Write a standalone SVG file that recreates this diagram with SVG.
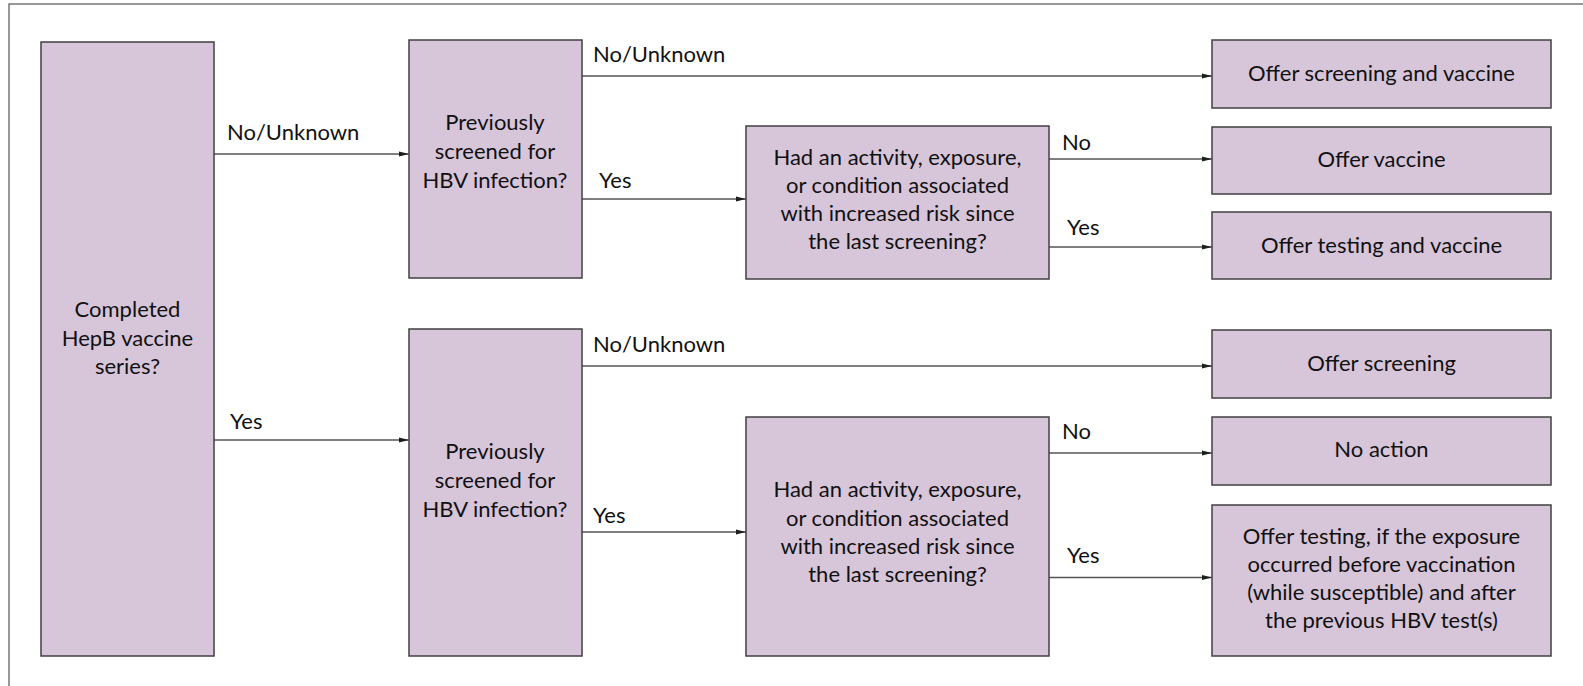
<svg xmlns="http://www.w3.org/2000/svg" width="1583" height="686" viewBox="0 0 1583 686">
<defs>
<marker id="arr" markerWidth="10" markerHeight="6" refX="10" refY="3" orient="auto" markerUnits="userSpaceOnUse"><path d="M0,0.6 L10,3 L0,5.4 Z" fill="#1e1e1e"/></marker>
<style>
.frame{fill:none;stroke:#555;stroke-width:1.2}
.box{fill:#D7C5D9;stroke:#404040;stroke-width:1.5}
.t{font-family:Lato,"Liberation Sans",sans-serif;font-size:22px;fill:#111;text-anchor:middle}
.l{font-family:Lato,"Liberation Sans",sans-serif;font-size:22px;fill:#111;text-anchor:start}
.c{stroke:#555;stroke-width:1.5;fill:none;marker-end:url(#arr)}
</style>
</defs>
<rect class="frame" x="9" y="4" width="1600" height="720"/>
<g id="connectors">
<path class="c" d="M214,154 H409"/>
<path class="c" d="M214,440 H409"/>
<path class="c" d="M582,76 H1212"/>
<path class="c" d="M582,199 H746"/>
<path class="c" d="M1049,159 H1212"/>
<path class="c" d="M1049,247 H1212"/>
<path class="c" d="M582,366 H1212"/>
<path class="c" d="M582,532 H746"/>
<path class="c" d="M1049,453 H1212"/>
<path class="c" d="M1049,577.5 H1212"/>
<text class="l" x="227" y="140">No/Unknown</text>
<text class="l" x="230" y="429">Yes</text>
<text class="l" x="593" y="62">No/Unknown</text>
<text class="l" x="599" y="188">Yes</text>
<text class="l" x="1062" y="150">No</text>
<text class="l" x="1067" y="235">Yes</text>
<text class="l" x="593" y="352">No/Unknown</text>
<text class="l" x="593" y="523">Yes</text>
<text class="l" x="1062" y="439">No</text>
<text class="l" x="1067" y="563">Yes</text>
</g>
<g id="completed">
<rect class="box" x="41" y="42" width="173" height="614"/>
<text class="t" x="127.5" y="317">Completed</text>
<text class="t" x="127.5" y="346">HepB vaccine</text>
<text class="t" x="127.5" y="374">series?</text>
</g>
<g id="screened1">
<rect class="box" x="409" y="40" width="173" height="238"/>
<text class="t" x="495" y="130">Previously</text>
<text class="t" x="495" y="159">screened for</text>
<text class="t" x="495" y="188">HBV infection?</text>
</g>
<g id="risk1">
<rect class="box" x="746" y="126" width="303" height="153"/>
<text class="t" x="897.5" y="165">Had an activity, exposure,</text>
<text class="t" x="897.5" y="193">or condition associated</text>
<text class="t" x="897.5" y="221">with increased risk since</text>
<text class="t" x="897.5" y="249">the last screening?</text>
</g>
<g id="offer-screening-vaccine">
<rect class="box" x="1212" y="40" width="339" height="68"/>
<text class="t" x="1381.5" y="81">Offer screening and vaccine</text>
</g>
<g id="offer-vaccine">
<rect class="box" x="1212" y="127" width="339" height="67"/>
<text class="t" x="1381.5" y="167">Offer vaccine</text>
</g>
<g id="offer-testing-vaccine">
<rect class="box" x="1212" y="212" width="339" height="67"/>
<text class="t" x="1381.5" y="253">Offer testing and vaccine</text>
</g>
<g id="screened2">
<rect class="box" x="409" y="329" width="173" height="327"/>
<text class="t" x="495" y="459">Previously</text>
<text class="t" x="495" y="488">screened for</text>
<text class="t" x="495" y="517">HBV infection?</text>
</g>
<g id="risk2">
<rect class="box" x="746" y="417" width="303" height="239"/>
<text class="t" x="897.5" y="497">Had an activity, exposure,</text>
<text class="t" x="897.5" y="525.5">or condition associated</text>
<text class="t" x="897.5" y="554">with increased risk since</text>
<text class="t" x="897.5" y="582">the last screening?</text>
</g>
<g id="offer-screening">
<rect class="box" x="1212" y="330" width="339" height="68"/>
<text class="t" x="1381.5" y="371">Offer screening</text>
</g>
<g id="no-action">
<rect class="box" x="1212" y="417" width="339" height="68"/>
<text class="t" x="1381.5" y="457">No action</text>
</g>
<g id="offer-testing-conditional">
<rect class="box" x="1212" y="505" width="339" height="151"/>
<text class="t" x="1381.5" y="544">Offer testing, if the exposure</text>
<text class="t" x="1381.5" y="572">occurred before vaccination</text>
<text class="t" x="1381.5" y="600">(while susceptible) and after</text>
<text class="t" x="1381.5" y="628">the previous HBV test(s)</text>
</g>
</svg>
